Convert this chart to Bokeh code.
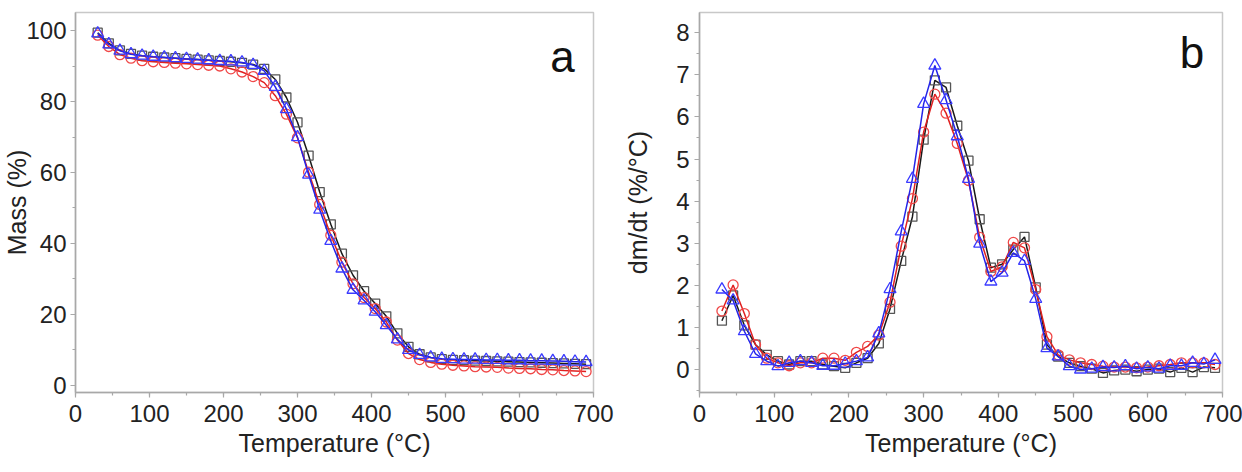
from bokeh.plotting import figure
from bokeh.layouts import row
from bokeh.models import Range1d, SingleIntervalTicker, Label
from bokeh.embed import file_html
from bokeh.resources import INLINE

# ---------------- data ----------------
temperature = [30, 45, 60, 75, 90, 105, 120, 135, 150, 165, 180, 195, 210, 225, 240,
               255, 270, 285, 300, 315, 330, 345, 360, 375, 390, 405, 420, 435, 450,
               465, 480, 495, 510, 525, 540, 555, 570, 585, 600, 615, 630, 645, 660,
               675, 690]

mass_black = [99.5, 96.5, 94.5, 93.5, 93.0, 92.7, 92.5, 92.3, 92.1, 91.9, 91.7, 91.5,
              91.3, 91.0, 90.5, 89.3, 86.3, 81.2, 74.2, 64.8, 54.5, 45.4, 37.1, 31.0,
              26.5, 23.0, 19.4, 14.6, 10.8, 8.7, 7.8, 7.3, 7.1, 7.0, 6.9, 6.8, 6.7,
              6.6, 6.5, 6.4, 6.3, 6.2, 6.1, 6.0, 5.9]
mass_red = [98.8, 95.6, 93.3, 92.3, 91.6, 91.3, 91.1, 90.9, 90.7, 90.5, 90.3, 90.1,
            89.3, 88.4, 87.1, 85.4, 81.7, 76.5, 69.8, 60.1, 51.0, 42.3, 34.7, 28.6,
            24.7, 21.6, 17.8, 12.7, 8.9, 7.2, 6.4, 5.9, 5.6, 5.4, 5.2, 5.1, 5.0, 4.8,
            4.7, 4.6, 4.4, 4.3, 4.1, 4.0, 3.8]
mass_blue = [99.3, 96.2, 94.4, 93.4, 93.0, 92.7, 92.5, 92.3, 92.1, 91.9, 91.7, 91.5,
             91.4, 91.1, 90.4, 88.7, 84.2, 77.9, 70.0, 59.4, 49.5, 40.7, 32.9, 26.9,
             23.9, 20.7, 16.9, 12.9, 9.9, 8.5, 7.8, 7.4, 7.3, 7.2, 7.2, 7.1, 7.1, 7.0,
             7.0, 6.9, 6.9, 6.8, 6.7, 6.6, 6.5]

dmdt_black = [1.16, 1.76, 1.05, 0.59, 0.35, 0.20, 0.12, 0.20, 0.20, 0.12, 0.08, 0.04,
              0.16, 0.27, 0.62, 1.44, 2.58, 3.63, 5.46, 6.87, 6.70, 5.79, 4.96, 3.57,
              2.42, 2.50, 2.85, 3.15, 1.95, 0.59, 0.31, 0.16, 0.08, 0.02, -0.08, -0.02,
              0.00, -0.04, 0.00, 0.02, -0.06, 0.04, -0.06, 0.06, 0.04]
dmdt_red = [1.39, 2.01, 1.33, 0.59, 0.27, 0.16, 0.09, 0.16, 0.16, 0.27, 0.27, 0.22,
            0.41, 0.55, 0.82, 1.60, 2.93, 4.06, 5.64, 6.54, 6.09, 5.37, 4.49, 3.14,
            2.33, 2.44, 3.02, 2.89, 1.90, 0.78, 0.35, 0.23, 0.16, 0.12, 0.08, 0.06,
            0.06, 0.04, 0.06, 0.09, 0.12, 0.16, 0.16, 0.16, 0.12]
dmdt_blue = [1.90, 1.64, 0.91, 0.37, 0.20, 0.08, 0.16, 0.20, 0.16, 0.09, 0.09, 0.14,
             0.20, 0.29, 0.86, 1.91, 3.28, 4.53, 6.31, 7.22, 6.40, 5.54, 4.53, 2.99,
             2.09, 2.30, 2.77, 2.58, 1.68, 0.51, 0.31, 0.08, 0.00, 0.02, 0.06, 0.05,
             0.08, 0.02, 0.05, 0.02, 0.09, 0.09, 0.16, 0.13, 0.23]

x_label = "Temperature (°C)"
ya_label = "Mass (%)"
yb_label = "dm/dt (%/°C)"

FONT = "Liberation Sans"
AXIS_COL = "#a8a8a8"
TEXT_COL = "#222222"
TICK_FONT = "24px"
LABEL_FONT = "25px"


def style(p, y_interval, label_standoff_y, tick_standoff_y):
    p.outline_line_color = "#c8c8c8"
    p.outline_line_width = 1.5
    p.xgrid.visible = False
    p.ygrid.visible = False
    p.background_fill_color = "white"
    p.border_fill_color = "white"
    p.xaxis.ticker = SingleIntervalTicker(interval=100, num_minor_ticks=2)
    p.yaxis.ticker = SingleIntervalTicker(interval=y_interval, num_minor_ticks=2)
    for ax in (p.xaxis[0], p.yaxis[0]):
        ax.axis_line_color = AXIS_COL
        ax.axis_line_width = 1.5
        ax.major_tick_line_color = AXIS_COL
        ax.minor_tick_line_color = AXIS_COL
        ax.major_tick_line_width = 1.2
        ax.minor_tick_line_width = 1.2
        ax.major_tick_in = 0
        ax.major_tick_out = 5
        ax.minor_tick_in = 0
        ax.minor_tick_out = 3
        ax.major_label_text_font = FONT
        ax.major_label_text_font_size = TICK_FONT
        ax.major_label_text_color = TEXT_COL
        ax.axis_label_text_font = FONT
        ax.axis_label_text_font_size = LABEL_FONT
        ax.axis_label_text_font_style = "normal"
        ax.axis_label_text_color = TEXT_COL
    p.xaxis.major_label_standoff = 7
    p.xaxis.axis_label_standoff = 4
    p.yaxis.major_label_standoff = tick_standoff_y
    p.yaxis.axis_label_standoff = label_standoff_y


def draw(p, ys_black, ys_red, ys_blue):
    p.line(temperature, ys_black, line_color="#1a1a1a", line_width=1.5)
    p.scatter(temperature, ys_black, marker="square", size=9, line_color="#555555",
              fill_color=None, line_width=1.3)
    p.line(temperature, ys_red, line_color="#e02020", line_width=1.5)
    p.scatter(temperature, ys_red, marker="circle", size=10, line_color="#f04848",
              fill_color=None, line_width=1.3)
    p.line(temperature, ys_blue, line_color="#2424e8", line_width=1.5)
    p.scatter(temperature, ys_blue, marker="triangle", size=12, line_color="#3a3aff",
              fill_color=None, line_width=1.3)


# ---------------- panel a ----------------
pa = figure(width=621, height=472, output_backend="svg", toolbar_location=None,
            x_range=Range1d(0, 700), y_range=Range1d(-2.1, 105.2),
            min_border_left=75, min_border_right=28, min_border_top=12,
            min_border_bottom=80)
style(pa, 20, -8, 4)
pa.xaxis.axis_label = x_label
pa.yaxis.axis_label = ya_label
draw(pa, mass_black, mass_red, mass_blue)
pa.add_layout(Label(x=658, y=92.7, text="a", text_font=FONT, text_font_size="44px",
                    text_color="#111111", text_align="center", text_baseline="middle"))

# ---------------- panel b ----------------
pb = figure(width=621, height=472, output_backend="svg", toolbar_location=None,
            x_range=Range1d(0, 700), y_range=Range1d(-0.545, 8.48),
            min_border_left=77, min_border_right=20, min_border_top=12,
            min_border_bottom=75)
style(pb, 1, 21, 5)
pb.xaxis.axis_label = x_label
pb.yaxis.axis_label = yb_label
draw(pb, dmdt_black, dmdt_red, dmdt_blue)
pb.add_layout(Label(x=659, y=7.52, text="b", text_font=FONT, text_font_size="44px",
                    text_color="#111111", text_align="center", text_baseline="middle"))

layout = row(pa, pb)
open("out.html", "w").write(file_html(layout, INLINE))
